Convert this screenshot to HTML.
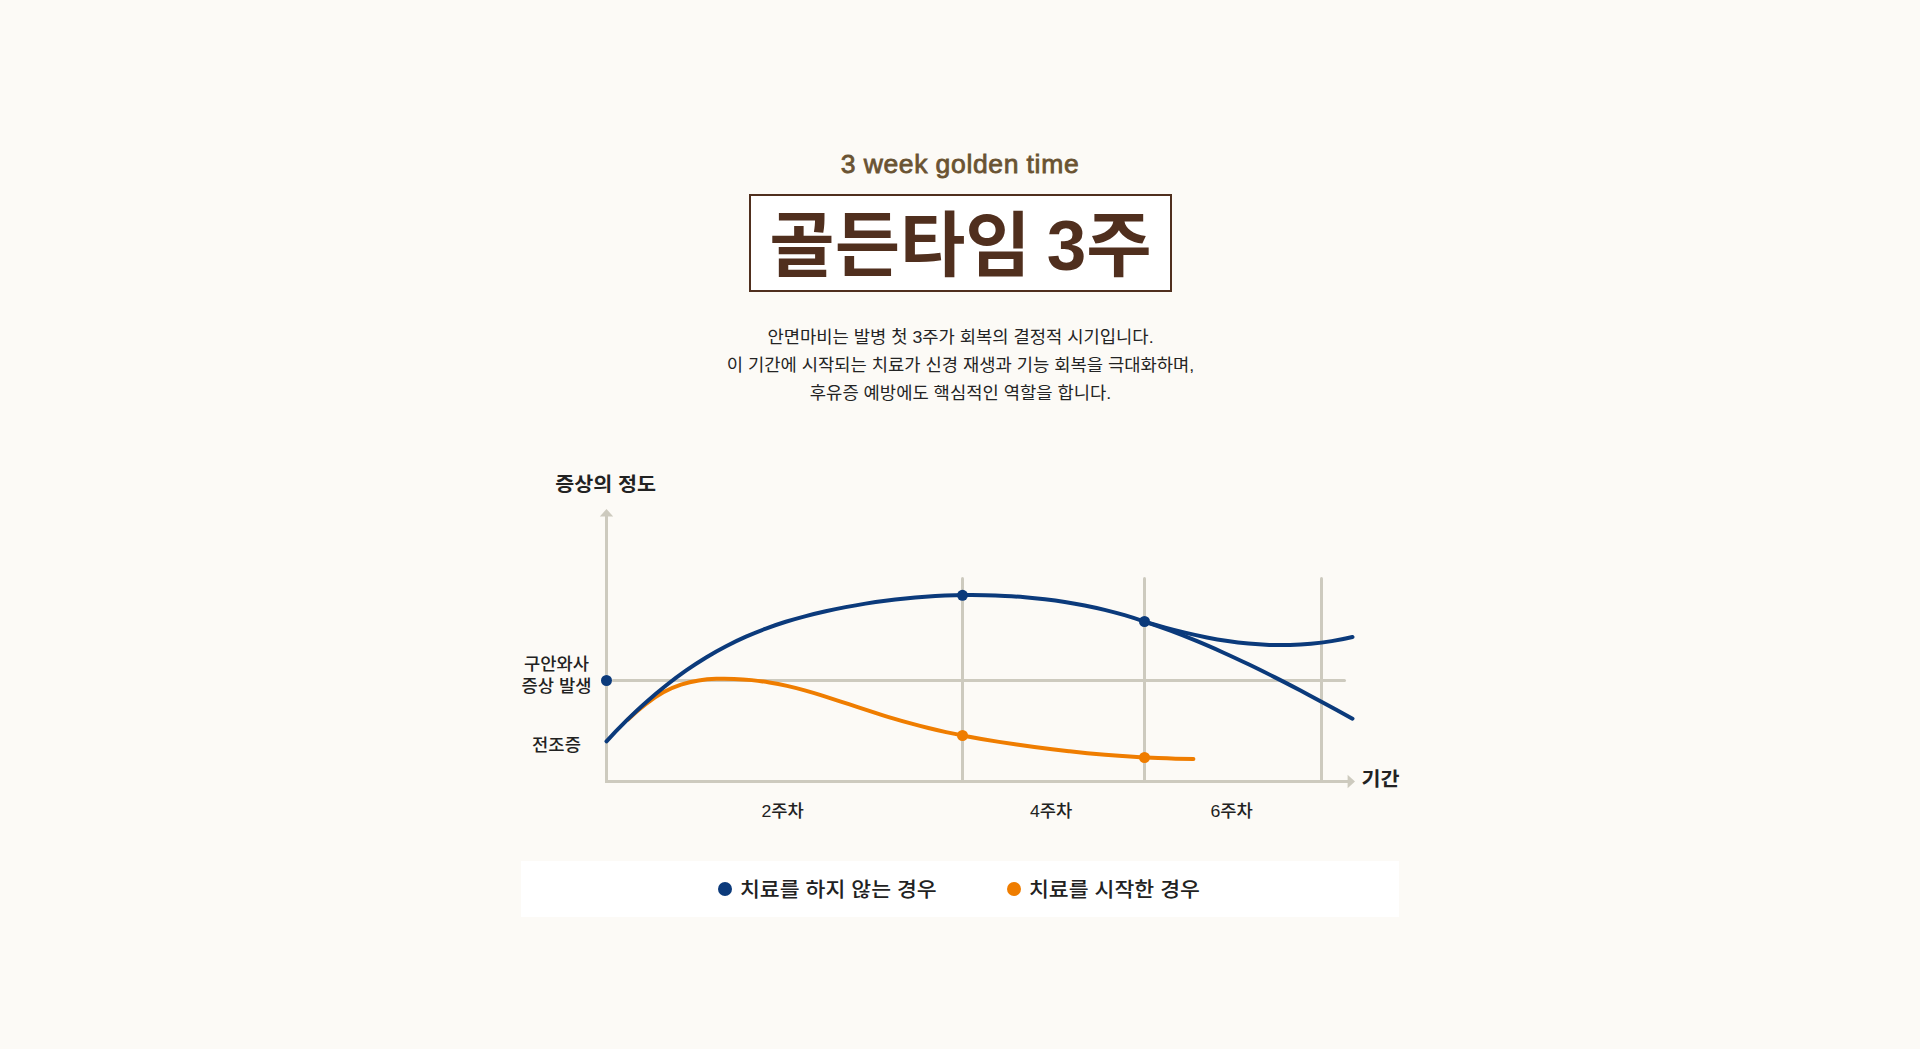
<!DOCTYPE html>
<html lang="ko">
<head>
<meta charset="utf-8">
<title>골든타임 3주</title>
<style>
html,body{margin:0;padding:0;}
body{width:1920px;height:1049px;overflow:hidden;background:#fcfaf6;position:relative;
  font-family:"Liberation Sans","Noto Sans CJK KR",sans-serif;color:#222;}
.sub{position:absolute;left:0;width:1920px;top:146px;text-align:center;font-size:26.5px;line-height:36px;font-weight:400;color:#6a5332;-webkit-text-stroke:0.8px #6a5332;letter-spacing:0.65px;word-spacing:-0.5px;}
.title{position:absolute;left:749px;top:194px;width:419px;height:94px;border:2px solid #502f1e;background:#fff;
  text-align:center;font-size:71px;line-height:100px;word-spacing:-3.5px;font-weight:700;color:#502f1e;white-space:nowrap;}
.desc{position:absolute;left:0;width:1921px;top:320px;text-align:center;font-size:18px;line-height:30px;font-weight:400;color:#242424;margin:0;
  transform:scale(0.983,0.934);transform-origin:960.5px 45px;}
.legend{position:absolute;left:521px;top:861px;width:878px;height:56px;background:#fff;}
.legend span{position:absolute;top:0.9px;font-size:22px;line-height:56px;font-weight:500;color:#222;white-space:nowrap;
  transform:scale(0.981,0.934);transform-origin:0 50%;}
.legend i{position:absolute;top:21px;width:14px;height:14px;border-radius:50%;}
svg{position:absolute;left:0;top:0;}
svg text{font-family:"Liberation Sans","Noto Sans CJK KR",sans-serif;fill:#222;}
</style>
</head>
<body>
<div class="sub">3 week golden time</div>
<div class="title">골든타임 3주</div>
<p class="desc">안면마비는 발병 첫 3주가 회복의 결정적 시기입니다.<br>이 기간에 시작되는 치료가 신경 재생과 기능 회복을 극대화하며,<br>후유증 예방에도 핵심적인 역할을 합니다.</p>

<svg width="1920" height="1049" viewBox="0 0 1920 1049">
  <g fill="none" stroke="#cdcabe" stroke-width="3" stroke-linecap="round">
    <path d="M606.5,516 V781.5 H1348" stroke-linejoin="miter" stroke-linecap="butt"/>
    <path d="M613,680.5 H1344.5"/>
    <path d="M962.5,578.5 V780"/>
    <path d="M1144.5,578.5 V780"/>
    <path d="M1321.5,578.5 V780"/>
  </g>
  <path d="M606.5,509 L613.2,516.6 H599.8 Z" fill="#cdcabe"/>
  <path d="M1355,781.5 L1347.6,774.8 V788.2 Z" fill="#cdcabe"/>
  <path d="M628.0,719.48 C633.9,713.93 639.8,708.77 645.7,704.18 C651.6,699.59 657.4,695.57 663.3,692.32 C669.2,689.06 675.1,686.55 681.0,684.62 C686.9,682.70 692.8,681.36 698.7,680.45 C704.6,679.54 710.5,679.06 716.3,678.85 C722.2,678.64 728.1,678.69 734.0,678.90 C739.9,679.12 745.8,679.53 751.7,680.12 C757.6,680.72 763.5,681.50 769.4,682.47 C775.2,683.43 781.1,684.58 787.0,685.91 C792.9,687.24 798.8,688.75 804.7,690.39 C810.6,692.02 816.5,693.78 822.4,695.62 C828.2,697.45 834.1,699.37 840.0,701.30 C845.9,703.23 851.8,705.19 857.7,707.12 C863.6,709.05 869.5,710.96 875.4,712.83 C881.3,714.70 887.1,716.53 893.0,718.30 C898.9,720.07 904.8,721.78 910.7,723.40 C916.6,725.03 922.5,726.58 928.4,728.03 C934.3,729.49 940.1,730.84 946.0,732.12 C951.9,733.39 957.8,734.59 963.7,735.72 C969.6,736.85 975.5,737.92 981.4,738.94 C987.3,739.96 993.2,740.93 999.0,741.87 C1004.9,742.81 1010.8,743.71 1016.7,744.58 C1022.6,745.44 1028.5,746.27 1034.4,747.06 C1040.3,747.85 1046.2,748.61 1052.1,749.32 C1057.9,750.03 1063.8,750.71 1069.7,751.35 C1075.6,751.99 1081.5,752.59 1087.4,753.15 C1093.3,753.71 1099.2,754.24 1105.1,754.72 C1110.9,755.21 1116.8,755.65 1122.7,756.06 C1128.6,756.46 1134.5,756.83 1140.4,757.16 C1146.3,757.49 1152.2,757.77 1158.1,758.02 C1164.0,758.27 1169.8,758.48 1175.7,758.65 C1181.6,758.82 1187.5,758.94 1193.4,759.03" fill="none" stroke="#ef7d00" stroke-width="4" stroke-linecap="round"/>
  <g fill="none" stroke="#0b3a7b" stroke-width="4" stroke-linecap="round" stroke-linejoin="round">
    <path d="M606.5,741.30 C613.1,734.09 619.8,727.21 626.4,720.66 C633.1,714.11 639.7,707.88 646.4,701.98 C653.0,696.07 659.6,690.49 666.3,685.23 C672.9,679.97 679.6,675.04 686.2,670.41 C692.8,665.79 699.5,661.48 706.1,657.47 C712.8,653.45 719.4,649.72 726.1,646.26 C732.7,642.81 739.3,639.62 746.0,636.68 C752.6,633.74 759.3,631.05 765.9,628.58 C772.5,626.11 779.2,623.86 785.8,621.78 C792.5,619.71 799.1,617.82 805.8,616.07 C812.4,614.33 819.0,612.72 825.7,611.23 C832.3,609.74 839.0,608.36 845.6,607.09 C852.3,605.83 858.9,604.67 865.5,603.61 C872.2,602.54 878.8,601.58 885.5,600.72 C892.1,599.85 898.7,599.09 905.4,598.42 C912.0,597.75 918.7,597.18 925.3,596.72 C932.0,596.25 938.6,595.88 945.2,595.61 C951.9,595.34 958.5,595.17 965.2,595.10 C971.8,595.04 978.5,595.07 985.1,595.20 C991.7,595.34 998.4,595.57 1005.0,595.91 C1011.7,596.25 1018.3,596.69 1024.9,597.24 C1031.6,597.78 1038.2,598.44 1044.9,599.22 C1051.5,600.00 1058.2,600.89 1064.8,601.93 C1071.4,602.96 1078.1,604.13 1084.7,605.44 C1091.4,606.76 1098.0,608.22 1104.6,609.84 C1111.3,611.46 1117.9,613.24 1124.6,615.20 C1131.2,617.15 1137.9,619.28 1144.5,621.59"/>
    <path d="M1144.5,621.69 C1151.4,623.72 1158.4,625.70 1165.3,627.57 C1172.2,629.45 1179.2,631.23 1186.1,632.88 C1193.0,634.53 1200.0,636.06 1206.9,637.43 C1213.8,638.79 1220.8,640.00 1227.7,641.03 C1234.6,642.06 1241.6,642.90 1248.5,643.55 C1255.4,644.20 1262.4,644.66 1269.3,644.91 C1276.2,645.15 1283.2,645.19 1290.1,645.01 C1297.0,644.82 1304.0,644.41 1310.9,643.77 C1317.8,643.13 1324.8,642.25 1331.7,641.12 C1338.6,639.98 1345.6,638.60 1352.5,636.96"/>
    <path d="M1144.5,621.55 C1153.2,624.41 1161.8,627.46 1170.5,630.71 C1179.2,633.95 1187.8,637.38 1196.5,640.97 C1205.2,644.56 1213.8,648.32 1222.5,652.21 C1231.2,656.11 1239.8,660.15 1248.5,664.32 C1257.2,668.48 1265.8,672.76 1274.5,677.14 C1283.2,681.52 1291.8,686.00 1300.5,690.56 C1309.2,695.11 1317.8,699.75 1326.5,704.43 C1335.2,709.12 1343.8,713.86 1352.5,718.64"/>
  </g>
  <g fill="#0b3a7b">
    <circle cx="606.5" cy="680.5" r="5.5"/>
    <circle cx="962.5" cy="595.3" r="5.5"/>
    <circle cx="1144.5" cy="621.5" r="5.5"/>
  </g>
  <g fill="#ef7d00">
    <circle cx="962.5" cy="735.5" r="5.5"/>
    <circle cx="1144.5" cy="757.5" r="5.5"/>
  </g>
  <text transform="translate(605.6,490.8) scale(0.985,0.945)" font-size="21" font-weight="700" text-anchor="middle">증상의 정도</text>
  <text transform="translate(1380.6,785.8) scale(0.985,0.945)" font-size="21" font-weight="700" text-anchor="middle">기간</text>
  <text transform="translate(556.5,670) scale(0.983,0.934)" font-size="18" font-weight="500" text-anchor="middle">구안와사</text>
  <text transform="translate(556.5,692) scale(0.983,0.934)" font-size="18" font-weight="500" text-anchor="middle">증상 발생</text>
  <text transform="translate(556.5,750.5) scale(0.983,0.934)" font-size="18" font-weight="500" text-anchor="middle">전조증</text>
  <text transform="translate(782.6,817) scale(0.983,0.934)" font-size="18" font-weight="500" text-anchor="middle">2주차</text>
  <text transform="translate(1051.2,817) scale(0.983,0.934)" font-size="18" font-weight="500" text-anchor="middle">4주차</text>
  <text transform="translate(1231.6,817) scale(0.983,0.934)" font-size="18" font-weight="500" text-anchor="middle">6주차</text>
</svg>

<div class="legend">
  <i style="left:197px;background:#0b3a7b"></i><span style="left:218.8px">치료를 하지 않는 경우</span>
  <i style="left:486px;background:#ef7d00"></i><span style="left:507.6px">치료를 시작한 경우</span>
</div>
</body>
</html>
